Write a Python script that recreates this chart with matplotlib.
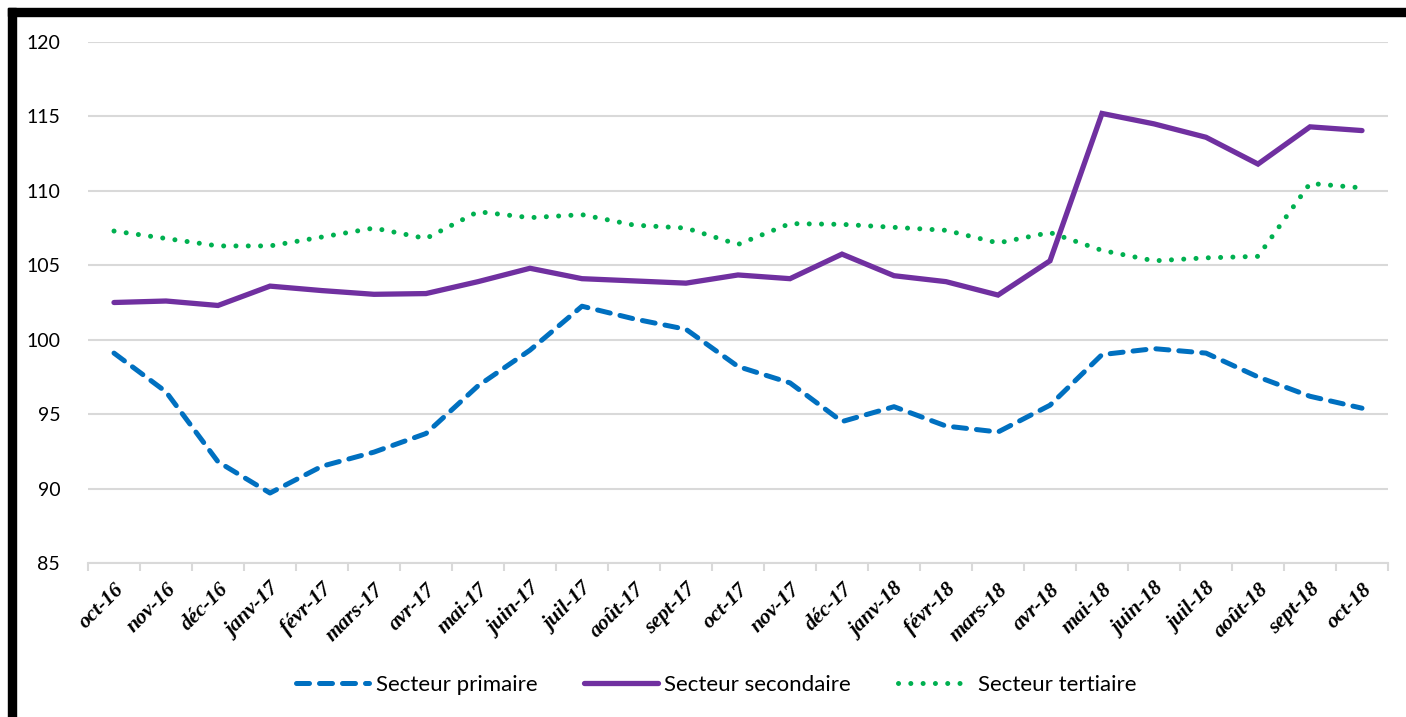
import matplotlib
matplotlib.use("Agg")
import matplotlib.pyplot as plt
from matplotlib.patches import Rectangle
from matplotlib.transforms import ScaledTranslation
from matplotlib.font_manager import FontProperties

months = ["oct-16", "nov-16", "déc-16", "janv-17", "févr-17", "mars-17", "avr-17",
          "mai-17", "juin-17", "juil-17", "août-17", "sept-17", "oct-17", "nov-17",
          "déc-17", "janv-18", "févr-18", "mars-18", "avr-18", "mai-18", "juin-18",
          "juil-18", "août-18", "sept-18", "oct-18"]

primaire = [99.1, 96.5, 91.8, 89.7, 91.5, 92.45, 93.7, 96.9, 99.3, 102.25, 101.4,
            100.7, 98.2, 97.1, 94.5, 95.5, 94.2, 93.8, 95.6, 99.0, 99.4, 99.1,
            97.5, 96.2, 95.4]
secondaire = [102.5, 102.6, 102.3, 103.6, 103.3, 103.05, 103.1, 103.9, 104.8, 104.1,
              103.95, 103.8, 104.35, 104.1, 105.75, 104.3, 103.9, 103.0, 105.3,
              115.2, 114.5, 113.6, 111.8, 114.3, 114.05]
tertiaire = [107.3, 106.8, 106.3, 106.3, 106.9, 107.5, 106.8, 108.6, 108.2, 108.4,
             107.7, 107.5, 106.4, 107.8, 107.75, 107.55, 107.35, 106.5, 107.2,
             106.0, 105.3, 105.5, 105.6, 110.5, 110.2]

labels = ["Secteur primaire", "Secteur secondaire", "Secteur tertiaire"]
yticks = [85, 90, 95, 100, 105, 110, 115, 120]

W, H = 1406, 717
fig = plt.figure(figsize=(W / 100, H / 100), dpi=100)
ax = fig.add_axes([88 / W, 1 - 563 / H, (1388 - 88) / W, (563 - 42) / H])

x = list(range(len(months)))
ax.plot(x, primaire, color="#0070C0", lw=3.6, linestyle=(0, (2.6, 2.0)),
        dash_capstyle="round", solid_capstyle="round", label=labels[0])
ax.plot(x, secondaire, color="#7030A0", lw=3.8, solid_capstyle="round",
        solid_joinstyle="miter", label=labels[1])
ax.plot(x, tertiaire, color="#00B050", lw=3.6, linestyle=(0, (0.01, 2.45)),
        dash_capstyle="round", label=labels[2])

ax.set_xlim(-0.5, len(months) - 0.5)
ax.set_ylim(85, 120)
ax.set_yticks(yticks)
ax.set_yticklabels([str(v) for v in yticks], fontfamily="Lato", fontsize=14)
ax.tick_params(axis="y", length=0, pad=20)
ax.grid(axis="y", color="#d9d9d9", lw=1.5)
ax.set_axisbelow(True)

xfont = FontProperties(family="Liberation Serif", weight="bold", style="italic", size=15.5)
ax.set_xticks(x)
ax.set_xticklabels(months, rotation=45, ha="right", va="center",
                   rotation_mode="anchor")
ax.tick_params(axis="x", length=0, pad=17)
ax.set_xticks([i - 0.5 for i in range(len(months) + 1)], minor=True)
ax.tick_params(axis="x", which="minor", length=6, color="#d9d9d9", width=1.5)
offset = ScaledTranslation(7 / 100, 0, fig.dpi_scale_trans)
for t in ax.get_xticklabels():
    t.set_fontproperties(xfont)
    t.set_transform(t.get_transform() + offset)

for s in ["left", "right", "top"]:
    ax.spines[s].set_visible(False)
ax.spines["bottom"].set_color("#d9d9d9")
ax.spines["bottom"].set_linewidth(1.5)

fig.legend(loc="center", bbox_to_anchor=(716 / W, 1 - 685 / H), ncol=3, frameon=False,
           prop={"family": "Lato", "size": 16}, handlelength=3.3, columnspacing=2.1,
           handletextpad=0.3)

# black frame on left and top
fig.patches.append(Rectangle((8 / W, 0), 8 / W, 1 - 8 / H, transform=fig.transFigure,
                             color="black", zorder=10))
fig.patches.append(Rectangle((8 / W, 1 - 16 / H), 1 - 8 / W, 8 / H,
                             transform=fig.transFigure, color="black", zorder=10))

fig.savefig("out.png", dpi=100)
